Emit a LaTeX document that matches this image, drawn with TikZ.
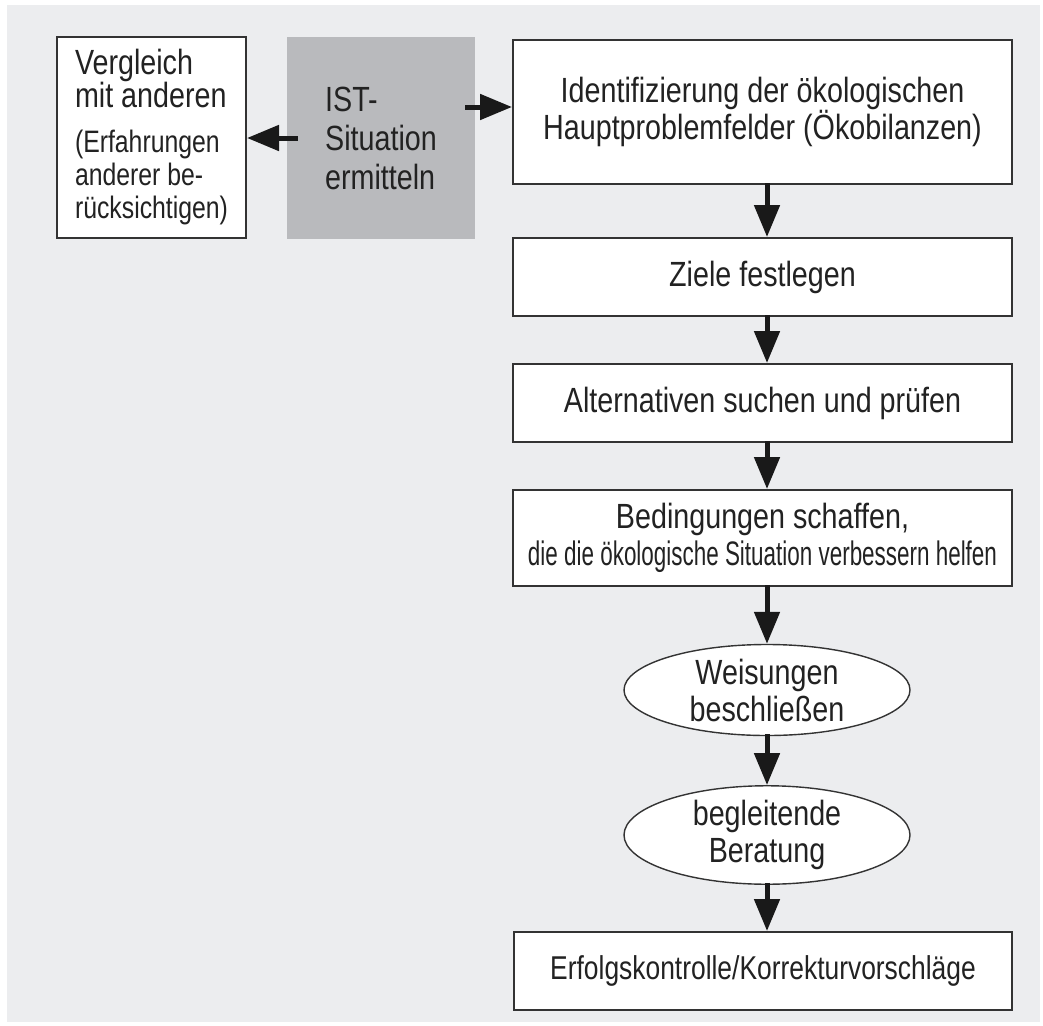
\documentclass[tikz,border=0pt]{standalone}
\usepackage{fontspec}
\setmainfont{Liberation Sans}[FakeStretch=0.82]
\newfontfamily\narrowfont{Liberation Sans}[FakeStretch=0.66]
\newfontfamily\semifont{Liberation Sans}[FakeStretch=0.8]
\usetikzlibrary{shapes.geometric,arrows.meta}

\definecolor{hintergrund}{HTML}{ECEDEF}
\definecolor{istgrau}{HTML}{B9BABD}
\definecolor{rand}{HTML}{333333}
\definecolor{schrift}{HTML}{222222}

\tikzset{
  kasten/.style={draw=rand, line width=2pt, fill=white, text=schrift, align=center,
    minimum width=499pt, inner sep=0pt, font=\fontsize{35}{37}\selectfont},
  oval/.style={ellipse, draw=rand, line width=1.4pt, fill=white, text=schrift, align=center,
    minimum width=286pt, minimum height=91pt, inner sep=0pt, font=\fontsize{35}{37}\selectfont},
  pfeil/.style={line width=5pt, draw=black!90, -{Triangle[length=32pt,width=25pt]}}
}

\begin{document}
\begin{tikzpicture}[x=1pt,y=-1pt]
		\useasboundingbox (0,0) rectangle (1043,1025);
		\fill[hintergrund] (7,5) rectangle (1040,1022);

		% linke Spalte
		\path (151.5,137.5) node[draw=rand, line width=2pt, fill=white, text=schrift,
			minimum width=189pt, minimum height=201pt, inner sep=0pt, align=left,
			font=\semifont\fontsize{31}{33}\selectfont] (vergleich)
			{{\rmfamily\fontsize{35}{33}\selectfont Vergleich}\\{\rmfamily\fontsize{35}{33}\selectfont mit anderen}\\[12pt]
			 (Erfahrungen\\anderer be-\\rücksichtigen)};
		\path (381,138) node[fill=istgrau, text=schrift, minimum width=188pt, minimum height=202pt,
			inner sep=0pt, align=left, text depth=-12pt,
			font=\fontsize{35}{39}\selectfont] (ist) {IST-\\Situation\\ermitteln};

		% rechte Spalte
		\path (762.5,112) node[kasten, minimum height=144pt] (ident)
			{Identifizierung der ökologischen\\Hauptproblemfelder (Ökobilanzen)};
		\path (762.5,277) node[kasten, minimum height=78pt] (ziele) {Ziele festlegen};
		\path (762.5,403) node[kasten, minimum height=78pt] (alt) {Alternativen suchen und prüfen};
		\path (762.5,538) node[kasten, minimum height=96pt] (bed)
			{Bedingungen schaffen,\\{\narrowfont\fontsize{34}{37}\selectfont die die ökologische Situation verbessern helfen}};
		\path (767,690) node[oval] (weis) {Weisungen\\beschließen};
		\path (767,835) node[oval, minimum height=92pt] (begl) {begleitende\\Beratung};
		\path (763,971) node[kasten, minimum width=498pt, minimum height=78pt,
			font=\semifont\fontsize{33}{37}\selectfont] (erf) {Erfolgskontrolle/Korrekturvorschläge};

		% Pfeile
		\draw[pfeil] ([xshift=-10pt,yshift=31pt]ist.east) -- ([yshift=31pt]ist.east -| ident.west);
		\draw[pfeil] ([xshift=11pt]ist.west) -- (ist.west -| vergleich.east);
		\foreach \von/\nach in {ident/ziele, ziele/alt, alt/bed, bed/weis, weis/begl, begl/erf}
			\draw[pfeil] ([yshift=2pt]\von.south -| weis) -- (\nach.north -| weis);
	\end{tikzpicture}
\end{document}
